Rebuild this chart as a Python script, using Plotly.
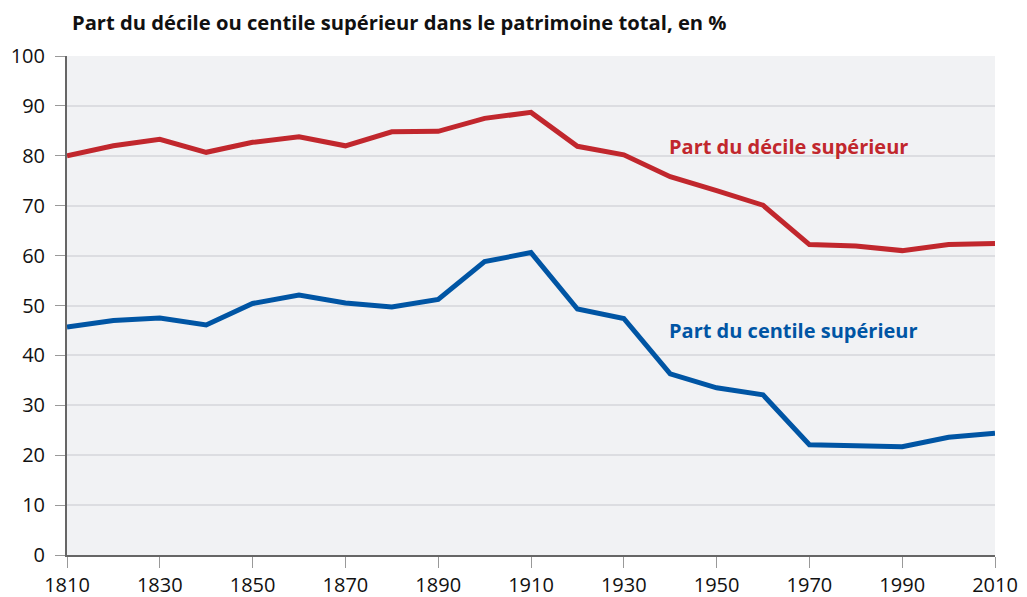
import plotly.graph_objects as go

years = [1810, 1820, 1830, 1840, 1850, 1860, 1870, 1880, 1890, 1900, 1910,
         1920, 1930, 1940, 1950, 1960, 1970, 1980, 1990, 2000, 2010]
decile = [80.0, 82.0, 83.3, 80.7, 82.7, 83.8, 82.0, 84.8, 84.9, 87.5, 88.7,
          81.9, 80.2, 75.8, 73.0, 70.1, 62.2, 61.9, 61.0, 62.2, 62.4]
centile = [45.7, 47.0, 47.5, 46.1, 50.4, 52.1, 50.5, 49.7, 51.2, 58.8, 60.6,
           49.3, 47.4, 36.3, 33.5, 32.1, 22.1, 22.0, 21.7, 23.6, 24.4]
x_ticks = [1810, 1830, 1850, 1870, 1890, 1910, 1930, 1950, 1970, 1990, 2010]
y_ticks = [0, 10, 20, 30, 40, 50, 60, 70, 80, 90, 100]

title = "Part du décile ou centile supérieur dans le patrimoine total, en %"
label_decile = "Part du décile supérieur"
label_centile = "Part du centile supérieur"

RED = "#C1272D"
BLUE = "#0055A4"
FONT = "Open Sans"

# the page body has an 8px margin: compensate so the plot lands where the reference has it
OFF = 8
W, H = 1027 - OFF, 597 - OFF
L, R, T, B = 67 - OFF, 32, 56 - OFF, 42

fig = go.Figure()
fig.add_trace(go.Scatter(x=years, y=decile, mode="lines",
                         line=dict(color=RED, width=5), hoverinfo="skip",
                         cliponaxis=False))
fig.add_trace(go.Scatter(x=years, y=centile, mode="lines",
                         line=dict(color=BLUE, width=5), hoverinfo="skip",
                         cliponaxis=False))

fig.add_annotation(x=1939.3, y=81.9, xref="x", yref="y", text=label_decile,
                   showarrow=False, xanchor="left", yanchor="middle",
                   font=dict(family=FONT, size=20, color=RED, weight="bold"))
fig.add_annotation(x=1939.3, y=45.0, xref="x", yref="y", text=label_centile,
                   showarrow=False, xanchor="left", yanchor="middle",
                   font=dict(family=FONT, size=20, color=BLUE, weight="bold"))

pw = W - L - R
ph = H - T - B
fig.add_annotation(x=(70 - 67) / pw, y=(555 - 22) / ph, xref="paper", yref="paper",
                   text=title, showarrow=False, xanchor="left", yanchor="middle",
                   font=dict(family=FONT, size=20.2, color="#111", weight="bold"))

fig.update_layout(
    width=W, height=H,
    margin=dict(l=L, r=R, t=T, b=B),
    paper_bgcolor="white",
    plot_bgcolor="#F1F2F4",
    showlegend=False,
    font=dict(family=FONT, size=20, color="#111"),
    xaxis=dict(range=[1810, 2010], tickvals=x_ticks, showgrid=False,
               zeroline=False, showline=True, linecolor="#666", linewidth=2,
               ticks="outside", ticklen=11, tickcolor="#999", tickwidth=1,
               automargin=False,
               tickfont=dict(family=FONT, size=20, color="#111")),
    yaxis=dict(range=[0, 100], tickvals=y_ticks, showgrid=True,
               gridcolor="#DCDDE1", gridwidth=1.5, zeroline=False,
               showline=True, linecolor="#666", linewidth=2,
               ticks="outside", ticklen=10, tickcolor="#999", tickwidth=1,
               automargin=False, ticklabelstandoff=6,
               tickfont=dict(family=FONT, size=20, color="#111")),
)

fig.write_html("out.html")
